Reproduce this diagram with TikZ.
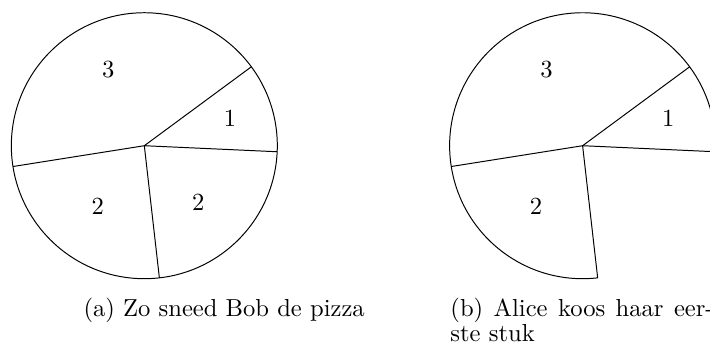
\documentclass[tikz,border=0pt]{standalone}
\tikzset{
  cut/.style={line width=0.4pt},
  slice/.style={inner sep=0pt, font=\normalsize},
  subcap/.style={anchor=base west, inner sep=0pt, font=\normalsize}
}
\newcommand{\rad}{1.9cm}

\begin{document}
\begin{tikzpicture}
\useasboundingbox (0,0) rectangle (10.144,4.958);
% (a) the whole pizza, four cuts
\coordinate (ca) at (2.062,2.876);
\foreach \ang/\nm in {36.4/n, -2.6/e, -83.5/s, 189/w}
  \coordinate (a\nm) at ([shift={(\ang:\rad)}]ca);
\draw[cut] (ca) circle[radius=\rad];
\draw[cut] (ca) -- (an) (ca) -- (ae) (ca) -- (as) (ca) -- (aw);
\node[slice] (a3) at ([shift={(-0.514,1.081)}]ca) {3};
\node[slice] (a1) at ([shift={(1.224,0.391)}]ca) {1};
\node[slice] (a2l) at ([shift={(-0.666,-0.871)}]ca) {2};
\node[slice] (a2r) at ([shift={(0.771,-0.809)}]ca) {2};
% (b) one piece gone
\coordinate (cb) at (8.324,2.876);
\foreach \ang/\nm in {36.4/n, -2.6/e, -83.5/s, 189/w}
  \coordinate (b\nm) at ([shift={(\ang:\rad)}]cb);
\draw[cut] (be) -- (cb) -- (bs) arc[start angle=-83.5, end angle=-362.6, radius=\rad];
\draw[cut] (cb) -- (bn) (cb) -- (bw);
\node[slice] (b3) at ([shift={(-0.514,1.081)}]cb) {3};
\node[slice] (b1) at ([shift={(1.224,0.391)}]cb) {1};
\node[slice] (b2) at ([shift={(-0.666,-0.871)}]cb) {2};
% captions
\node[subcap] (capa) at (1.186,0.429) {(a) Zo sneed Bob de pizza};
\node[subcap, text width=107pt, align=justify] (capb) at (6.429,0.429)
  {\setlength{\baselineskip}{9.8pt}(b) Alice koos haar eer-\linebreak ste stuk\par};
\end{tikzpicture}
\end{document}
